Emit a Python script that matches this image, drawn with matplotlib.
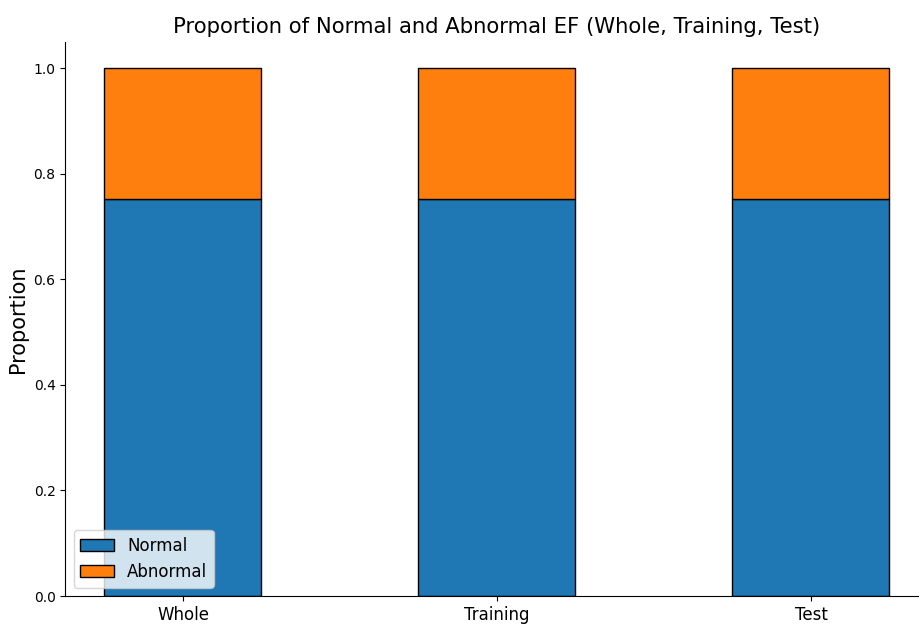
import matplotlib
matplotlib.use("Agg")
import matplotlib.pyplot as plt
import numpy as np

groups = ["Whole", "Training", "Test"]
normal = [0.752, 0.752, 0.752]
abnormal = [0.248, 0.248, 0.248]

fig = plt.figure(figsize=(9.19, 6.27), dpi=100)
ax = fig.add_axes([0.0710, 0.0494, 0.9396, 0.8842])

x = np.arange(len(groups))
ax.bar(x, normal, width=0.5, color="#1f77b4", edgecolor="black", label="Normal")
ax.bar(x, abnormal, width=0.5, bottom=normal, color="#ff7f0e", edgecolor="black", label="Abnormal")

ax.set_xticks(x)
ax.set_xticklabels(groups, fontsize=12)
ax.set_ylabel("Proportion", fontsize=15)
ax.set_title("Proportion of Normal and Abnormal EF (Whole, Training, Test)", fontsize=15.2)
ax.spines["top"].set_visible(False)
ax.spines["right"].set_visible(False)
ax.legend(loc="lower left", fontsize=12)

fig.savefig("out.png", dpi=100)
